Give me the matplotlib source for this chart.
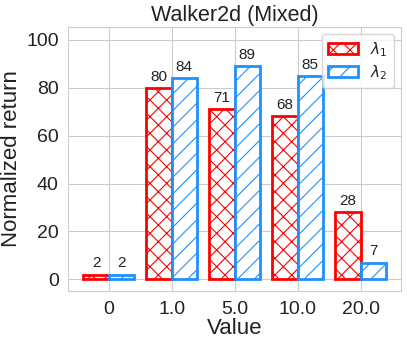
import numpy as np
import matplotlib
matplotlib.use('Agg')
import matplotlib.pyplot as plt
import seaborn as sns

# данные
categories = ['0', '1.0', '5.0', '10.0', '20.0']
lambda1 = [2, 80, 71, 68, 28]
lambda2 = [2, 84, 89, 85, 7]

sns.set_style('whitegrid')
plt.rcParams['font.family'] = ['Liberation Sans', 'DejaVu Sans']
plt.rcParams['hatch.linewidth'] = 0.8

fig, ax = plt.subplots(figsize=(4.07, 3.45), dpi=100)
fig.subplots_adjust(left=0.168, right=0.985, bottom=0.157, top=0.922)

x = np.arange(len(categories))
w = 0.4
b1 = ax.bar(x - w / 2, lambda1, w, facecolor='white', edgecolor='red',
            hatch='xx', linewidth=2, label=r'$\lambda_1$')
b2 = ax.bar(x + w / 2, lambda2, w, facecolor='white', edgecolor='dodgerblue',
            hatch='//', linewidth=2, label=r'$\lambda_2$')

ax.bar_label(b1, fontsize=11, padding=3, color='#222222')
ax.bar_label(b2, fontsize=11, padding=3, color='#222222')

ax.set_xticks(x)
ax.set_xticklabels(categories)
ax.set_ylim(-4.8, 105.4)
ax.set_yticks([0, 20, 40, 60, 80, 100])
ax.tick_params(labelsize=14, colors='#222222')
ax.set_xlabel('Value', fontsize=16, color='#222222', labelpad=0)
ax.set_ylabel('Normalized return', fontsize=16, color='#222222', labelpad=3)
ax.set_title('Walker2d (Mixed)', fontsize=15.5, color='#222222', pad=4)
ax.legend(loc='upper right', fontsize=11, labelspacing=0.3,
          borderaxespad=0.45)

plt.savefig('out.png', dpi=100)
